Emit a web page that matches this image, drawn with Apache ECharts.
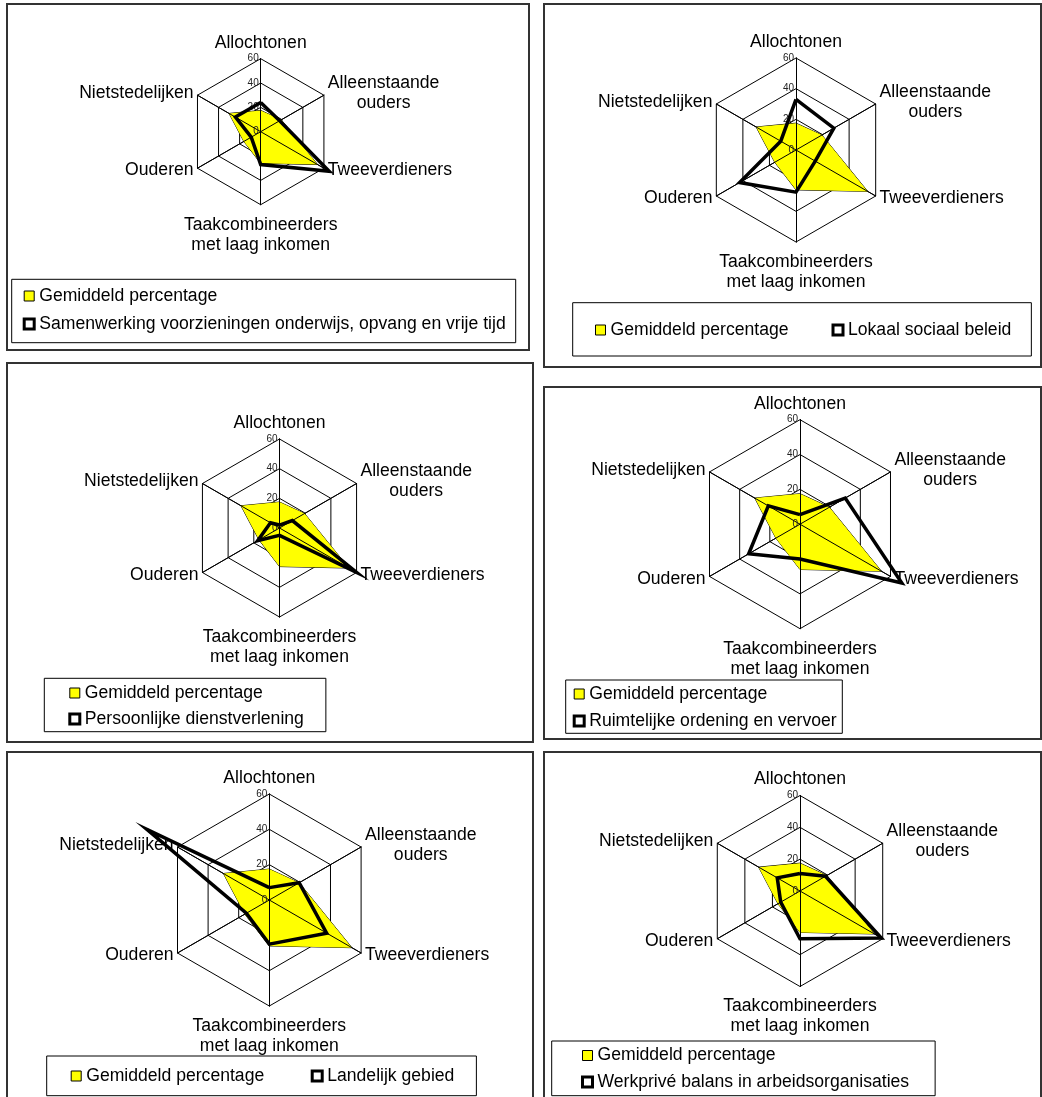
<!DOCTYPE html>
<html>
<head>
<meta charset="utf-8">
<title>Doelgroepen per beleidsveld</title>
<script src="https://cdn.jsdelivr.net/npm/echarts@6/dist/echarts.min.js"></script>
<style>
  html, body { margin: 0; padding: 0; background: #ffffff; }
  #chart { width: 1042px; height: 1097px; }
</style>
</head>
<body>
<div id="chart"></div>
<script>
// Axes, listed counter-clockwise from the top (ECharts radar order)
const categories = [
  'Allochtonen',
  'Nietstedelijken',
  'Ouderen',
  'Taakcombineerders\nmet laag inkomen',
  'Tweeverdieners',
  'Alleenstaande\nouders'
];
const axisMax = 60;
const axisStep = 20;

const gemiddeldNaam = 'Gemiddeld percentage';
const gemiddeld = [17.5, 30, 16, 26, 54, 19.5];

const beleidsvelden = [
  'Samenwerking voorzieningen onderwijs, opvang en vrije tijd',
  'Lokaal sociaal beleid',
  'Persoonlijke dienstverlening',
  'Ruimtelijke ordening en vervoer',
  'Landelijk gebied',
  'Werkprivé balans in arbeidsorganisaties'
];
const samenwerking = [24, 24, 9, 27, 65, 18];
const lokaalSociaal = [33, 11.5, 42.5, 27.5, 14.5, 28.5];
const persoonlijk = [2, 7, 17, 5, 60, 10];
const ruimtelijk = [5.5, 21, 34, 20, 67.5, 30];
const landelijk = [7, 80, 15, 25, 37.5, 19.5];
const werkprive = [11, 16.5, 14, 30, 59, 18.5];
const beleidsWaarden = [samenwerking, lokaalSociaal, persoonlijk, ruimtelijk, landelijk, werkprive];

// Panel layout: frame, radar centre/radius and legend box
const panels = [
  { box: [7, 4, 522, 346], center: [260.7, 131.7], r: 73,
    legend: { orient: 'vertical', left: 11.7, top: 279.3, padding: [7.7, 10, 9.7, 11], itemGap: 10 } },
  { box: [544, 4, 497, 363], center: [796, 150], r: 92,
    legend: { orient: 'horizontal', left: 572.7, top: 302.7, padding: [18.3, 20, 17, 22.3], itemGap: 43 } },
  { box: [7, 363, 526, 379], center: [279.5, 528], r: 89,
    legend: { orient: 'vertical', left: 44.3, top: 678.3, padding: [5.7, 22, 3.7, 24], itemGap: 8 } },
  { box: [544, 387, 497, 352], center: [800, 524.2], r: 104.5,
    legend: { orient: 'vertical', left: 565.7, top: 680, padding: [5, 5.7, 3.3, 7], itemGap: 9 } },
  { box: [7, 752, 526, 360], center: [269.3, 900], r: 106,
    legend: { orient: 'horizontal', left: 46.7, top: 1056, padding: [11, 22, 10.7, 24], itemGap: 46.5 } },
  { box: [544, 752, 497, 360], center: [800, 891], r: 95.5,
    legend: { orient: 'vertical', left: 551.7, top: 1041, padding: [5.5, 26, 4.7, 29.3], itemGap: 8.5 } }
];

const FONT = "'Liberation Sans', Arial, Helvetica, sans-serif";
const FONT_SIZE = 17.6;
// gap between ring vertex and axis name, per axis (same order as categories)
const nameGaps = [6, 4.5, 4.5, 10, 4.5, 4.5];

function indicators(withLabels) {
  return categories.map(function (name, i) {
    const ind = { name: name, min: 0, max: axisMax, nameGap: nameGaps[i] };
    if (withLabels && i === 0) ind.axisLabel = { show: true };
    return ind;
  });
}

const radars = [];
const series = [];
const legends = [];
const graphics = [];

panels.forEach(function (p, k) {
  // base grid: rings, spokes and axis names
  radars.push({
    center: p.center,
    radius: p.r,
    startAngle: 90,
    shape: 'polygon',
    splitNumber: axisMax / axisStep,
    z: 0,
    indicator: indicators(false),
    axisName: {
      color: '#000',
      fontSize: FONT_SIZE,
      fontFamily: FONT,
      formatter: function (name) {
        return name.split('\n').map(function (s) { return '{c|' + s + '}'; }).join('\n');
      },
      rich: { c: { align: 'center', fontSize: FONT_SIZE, lineHeight: 20, color: '#000', fontFamily: FONT } }
    },
    axisLine: { lineStyle: { color: '#000', width: 1 } },
    splitLine: { lineStyle: { color: '#000', width: 1 } },
    splitArea: { show: false },
    axisTick: { show: false },
    axisLabel: { show: false }
  });
  // overlay: spokes and tick labels drawn above the filled average
  radars.push({
    center: p.center,
    radius: p.r,
    startAngle: 90,
    shape: 'polygon',
    splitNumber: axisMax / axisStep,
    z: 2,
    indicator: indicators(true),
    axisName: { show: false },
    axisLine: { lineStyle: { color: '#000', width: 1 } },
    splitLine: { show: false },
    splitArea: { show: false },
    axisTick: { show: false },
    axisLabel: { show: false, fontSize: 10, color: '#222', margin: 2, fontFamily: FONT }
  });

  series.push({
    type: 'radar',
    radarIndex: 2 * k,
    z: 1,
    symbol: 'none',
    silent: true,
    lineStyle: { color: '#000', width: 1 },
    areaStyle: { color: '#ffff00', opacity: 1 },
    itemStyle: { color: '#ffff00' },
    data: [{ name: gemiddeldNaam, value: gemiddeld }]
  });
  series.push({
    type: 'radar',
    radarIndex: 2 * k + 1,
    z: 3,
    symbol: 'none',
    silent: true,
    lineStyle: { color: '#000', width: 3.5, join: 'miter', miterLimit: 20 },
    itemStyle: { color: '#000' },
    data: [{ name: beleidsvelden[k], value: beleidsWaarden[k] }]
  });

  legends.push({
    orient: p.legend.orient,
    left: p.legend.left,
    top: p.legend.top,
    padding: p.legend.padding,
    itemGap: p.legend.itemGap,
    itemWidth: 10,
    itemHeight: 10,
    borderColor: '#000',
    borderWidth: 1,
    selectedMode: false,
    textStyle: { fontSize: FONT_SIZE, color: '#000', fontFamily: FONT, lineHeight: 18 },
    data: [
      { name: gemiddeldNaam, icon: 'rect', itemStyle: { color: '#ffff00', borderColor: '#000', borderWidth: 1 } },
      { name: beleidsvelden[k], icon: 'rect', itemStyle: { color: '#ffffff', borderColor: '#000', borderWidth: 3 } }
    ]
  });

  graphics.push({
    type: 'rect',
    silent: true,
    z: -1,
    shape: { x: p.box[0], y: p.box[1], width: p.box[2], height: p.box[3] },
    style: { fill: 'none', stroke: '#333', lineWidth: 2 }
  });
});

const chart = echarts.init(document.getElementById('chart'), null, { renderer: 'canvas' });
chart.setOption({
  backgroundColor: '#ffffff',
  animation: false,
  radar: radars,
  legend: legends,
  series: series,
  graphic: graphics
});
</script>
</body>
</html>
